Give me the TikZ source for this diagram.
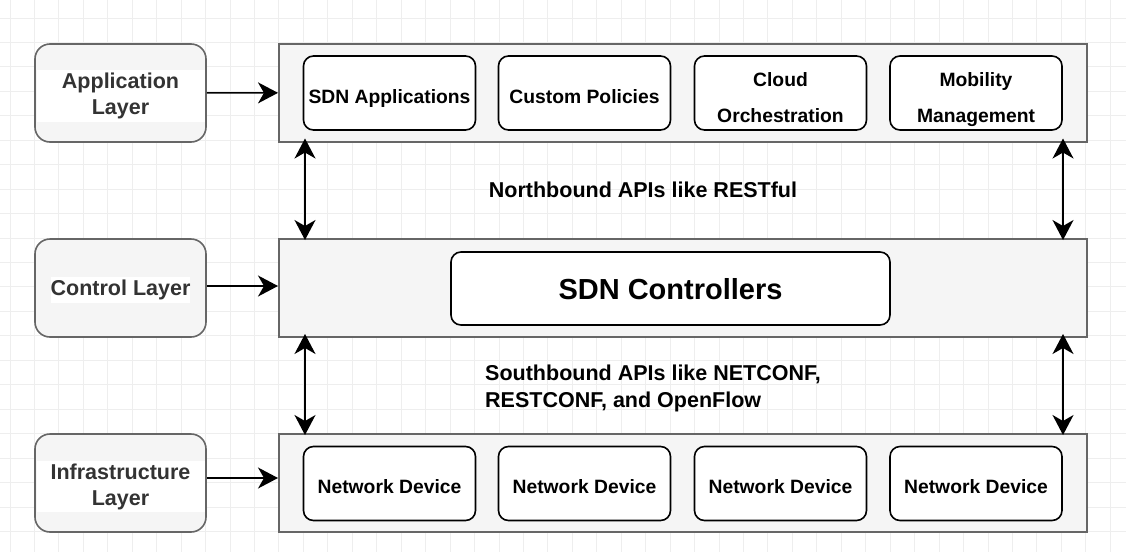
\documentclass[tikz,border=0pt]{standalone}
\usepackage{fontspec}
\setmainfont{Liberation Sans}
\usetikzlibrary{arrows.meta, positioning}
\definecolor{gridgray}{RGB}{238,238,238}
\definecolor{layergray}{RGB}{245,245,245}
\definecolor{edgegray}{RGB}{102,102,102}
\definecolor{labeldark}{RGB}{51,51,51}

\begin{document}
\begin{tikzpicture}[x=1pt, y=-1pt,
  gridline/.style={gridgray, line width=1pt},
  layer/.style={draw=edgegray, fill=layergray, line width=1.6pt, rounded corners=15pt,
    minimum width=171pt, minimum height=98pt},
  layertext/.style={fill=white, text=labeldark, font=\bfseries\fontsize{21.5}{26}\selectfont,
    align=center, inner xsep=0pt, inner ysep=2.5pt},
  plane/.style={draw=edgegray, fill=layergray, line width=2pt,
    minimum width=808pt, minimum height=98pt},
  item/.style={draw=black, fill=white, line width=1.6pt, rounded corners=10pt,
    minimum width=172pt, minimum height=74pt, align=center,
    text height=20pt, text depth=0pt,
    font=\bfseries\fontsize{19.3}{36}\selectfont},
  twoline/.style={text height=59pt, text depth=0pt},
  api/.style={font=\bfseries\fontsize{21.5}{27}\selectfont, align=left, inner sep=0pt},
  arr/.style={-{Stealth[length=20pt, width=21pt, inset=6pt]}, line width=1.6pt},
  biarr/.style={{Stealth[length=20pt, width=21pt, inset=6pt]}-{Stealth[length=20pt, width=21pt, inset=6pt]}, line width=1.6pt}
]
  \useasboundingbox (0,0) rectangle (1126,552);

  % background grid
  \foreach \gx in {0,...,45}
    \draw[gridline] ({10+24.45*\gx},0) -- ({10+24.45*\gx},552);
  \foreach \gy in {0,...,22}
    \draw[gridline] (0,{18+24.45*\gy}) -- (1126,{18+24.45*\gy});

  % layer boxes on the left
  \node[layer] (applayer) at (120.5,93) {};
  \node[layertext, text width=168pt] (applabel) at (120.5,96) {Application\\Layer};
  \node[layer] (ctrllayer) at (120.5,288) {};
  \node[layertext] (ctrllabel) at (120.5,290) {Control Layer};
  \node[layer] (infralayer) at (120.5,483) {};
  \node[layertext, text width=168pt] (infralabel) at (120.5,486.5) {Infrastructure\\Layer};

  % planes
  \node[plane] (apps) at (683,92.5) {};
  \node[plane] (ctrl) at (683,288) {};
  \node[plane] (devs) at (683,483) {};

  % application plane
  \node[item] (sdnapp) at (389.5,93) {SDN Applications};
  \node[item] (policy) at (584.5,93) {Custom Policies};
  \node[item, twoline] (cloud) at (780.5,93) {Cloud\\Orchestration};
  \node[item, twoline] (mobility) at (976,93) {Mobility\\Management};

  % control plane
  \node[item, minimum width=439pt, minimum height=73pt, text height=21pt,
    font=\bfseries\fontsize{29}{34}\selectfont] (controller) at (670.5,288.5) {SDN Controllers};

  % infrastructure plane
  \node[item] (dev1) at (389.5,483.5) {Network Device};
  \node[item] (dev2) at (584.5,483.5) {Network Device};
  \node[item] (dev3) at (780.5,483.5) {Network Device};
  \node[item] (dev4) at (976,483.5) {Network Device};

  % api labels
  \node[api] (north) at (643,190) {Northbound APIs like RESTful};
  \node[api, anchor=west] (south) at (485,388.5) {Southbound APIs like NETCONF,\\RESTCONF, and OpenFlow};

  % connectors
  \draw[arr] (applayer) -- (apps);
  \draw[arr] ([yshift=2pt]ctrllayer.east) -- ([yshift=2pt]ctrllayer.east -| ctrl.west);
  \draw[arr] ([yshift=5pt]infralayer.east) -- ([yshift=5pt]infralayer.east -| devs.west);

  \draw[biarr] ([xshift=27pt, yshift=4pt]apps.south west) -- ([xshift=27pt, yshift=-2pt]ctrl.north west);
  \draw[biarr] ([xshift=-25pt, yshift=4pt]apps.south east) -- ([xshift=-25pt, yshift=-2pt]ctrl.north east);
  \draw[biarr] ([xshift=27pt, yshift=4pt]ctrl.south west) -- ([xshift=27pt, yshift=-2pt]devs.north west);
  \draw[biarr] ([xshift=-25pt, yshift=4pt]ctrl.south east) -- ([xshift=-25pt, yshift=-2pt]devs.north east);
\end{tikzpicture}
\end{document}
